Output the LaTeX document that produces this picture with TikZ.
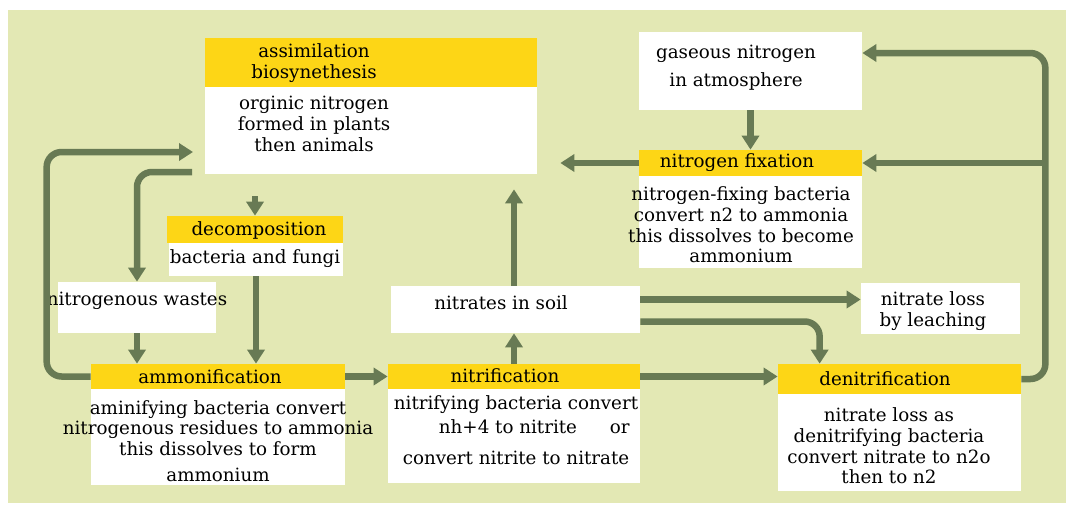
\documentclass[tikz,border=0pt]{standalone}
\usepackage{fontspec}
\setmainfont{DejaVu Serif}
\usetikzlibrary{arrows.meta,fit}

\definecolor{bgkhaki}{RGB}{227, 232, 180}
\definecolor{headyellow}{RGB}{253, 214, 22}
\definecolor{arrowgreen}{RGB}{104, 122, 84}

\begin{document}
\begin{tikzpicture}[x=0.02cm, y=-0.02cm, % Koordinaten in Pixeln, y nach unten
		head/.style={fill=headyellow, inner sep=0pt},
		body/.style={fill=white, inner sep=0pt},
		txt/.style={font=\fontsize{10.4}{11.8}\selectfont, align=center, inner sep=0pt},
		flow/.style={draw=arrowgreen, line width=0.13cm, rounded corners=0.3cm, -{Triangle[width=0.34cm, length=0.28cm]}}]
		
		% Hintergrund
		\useasboundingbox (0,0) rectangle (1070,510);
		\fill[bgkhaki] (8,10) rectangle (1066,503);
		
		% Assimilation (oben links)
		\node[head, fit={(205,38) (537,87)}] (assimHead) {};
		\node[body, fit={(205,87) (537,174)}] (assimBody) {};
		\node[txt] (assimTitle) at (314,63) {assimilation\\biosynethesis};
		\node[txt] (assimText) at (314,124) {orginic nitrogen\\formed in plants\\then animals};
		
		% Stickstoff in der Atmosphaere
		\node[body, fit={(639,32) (862,110)}] (gasBox) {};
		\node[txt] (gasText) at (736,68) {gaseous nitrogen\\[4pt]in atmosphere};
		
		% Stickstofffixierung
		\node[head, fit={(639,150) (862,176)}] (fixHead) {};
		\node[body, fit={(639,176) (862,268)}] (fixBody) {};
		\node[txt] (fixTitle) at (737,163) {nitrogen fixation};
		\node[txt] (fixText) at (741,225) {nitrogen-fixing bacteria\\convert n2 to ammonia\\this dissolves to become\\ammonium};
		
		% Zersetzung
		\node[head, fit={(167,216) (343,243)}] (decompHead) {};
		\node[body, fit={(169,243) (343,276)}] (decompBody) {};
		\node[txt] (decompTitle) at (259,230) {decomposition};
		\node[txt] (decompText) at (255,259) {bacteria and fungi};
		
		% Ausscheidungen, Nitrat im Boden, Auswaschung
		\node[body, fit={(58,282) (216,333)}] (wasteBox) {};
		\node[txt] (wasteText) at (137,301) {nitrogenous wastes};
		\node[body, fit={(391,286) (640,333)}] (soilBox) {};
		\node[txt] (soilText) at (501,303) {nitrates in soil};
		\node[body, fit={(861,283) (1020,334)}] (leachBox) {};
		\node[txt] (leachText) at (933,311) {nitrate loss\\by leaching};
		
		% Ammonifikation
		\node[head, fit={(91,364) (345,389)}] (ammonHead) {};
		\node[body, fit={(91,389) (345,485)}] (ammonBody) {};
		\node[txt] (ammonTitle) at (210,377) {ammonification};
		\node[txt] (ammonText) at (218,441) {aminifying bacteria convert\\nitrogenous residues to ammonia\\this dissolves to form\\[3pt]ammonium};
		
		% Nitrifikation
		\node[head, fit={(388,364) (640,389)}] (nitrifHead) {};
		\node[body, fit={(388,389) (640,483)}] (nitrifBody) {};
		\node[txt] (nitrifTitle) at (505,376) {nitrification};
		\node[txt] (nitrifText) at (516,430) {nitrifying bacteria convert\\[2pt]\hspace*{2em}nh+4 to nitrite\hspace{1.8em}or\\[6pt]convert nitrite to nitrate};
		
		% Denitrifikation
		\node[head, fit={(778,364) (1021,394)}] (denitHead) {};
		\node[body, fit={(778,394) (1021,491)}] (denitBody) {};
		\node[txt] (denitTitle) at (885,379) {denitrification};
		\node[txt] (denitText) at (889,446) {nitrate loss as\\denitrifying bacteria\\convert nitrate to n2o\\then to n2};
		
		% Pfeile links
		\coordinate (assimIn) at (193,152);
		\coordinate (assimOut) at (192,172);
		\draw[flow] (ammonHead.west) -- ++(-44,0) |- (assimIn);
		\draw[flow] (assimOut) -| (wasteBox.north);
		\draw[flow, shorten <=0.44cm] (assimBody.south -| decompHead.north) -- (decompHead.north);
		\draw[flow] (decompBody.south) -- (decompBody.south |- ammonHead.north);
		\draw[flow] (wasteBox.south) -- (wasteBox.south |- ammonHead.north);
		
		% Pfeile Mitte
		\draw[flow] (ammonHead.east) -- (nitrifHead.west);
		\draw[flow] (nitrifHead.north) -- (nitrifHead.north |- soilBox.south);
		\draw[flow, shorten >=0.3cm] (nitrifHead.north |- soilBox.north) -- (nitrifHead.north |- assimBody.south);
		\draw[flow, shorten >=0.46cm] (fixHead.west) -- (fixHead.west -| assimBody.east);
		\draw[flow] (gasBox.south) -- (fixHead.north);
		
		% Pfeile rechts
		\draw[flow] ([yshift=0.2cm]soilBox.east) coordinate (soilOut) -- (soilOut -| leachBox.west);
		\draw[flow] ([yshift=-0.24cm]soilBox.east) -| ([xshift=0.84cm]denitHead.north west);
		\draw[flow] (nitrifHead.east) -- (nitrifHead.east -| denitHead.west);
		\draw[flow] (denitHead.east) -- ++(24,0) coordinate (loopFoot) |- ([yshift=0.36cm]gasBox.east);
		\draw[flow] (loopFoot |- fixHead.east) -- (fixHead.east);
		
	\end{tikzpicture}
\end{document}
